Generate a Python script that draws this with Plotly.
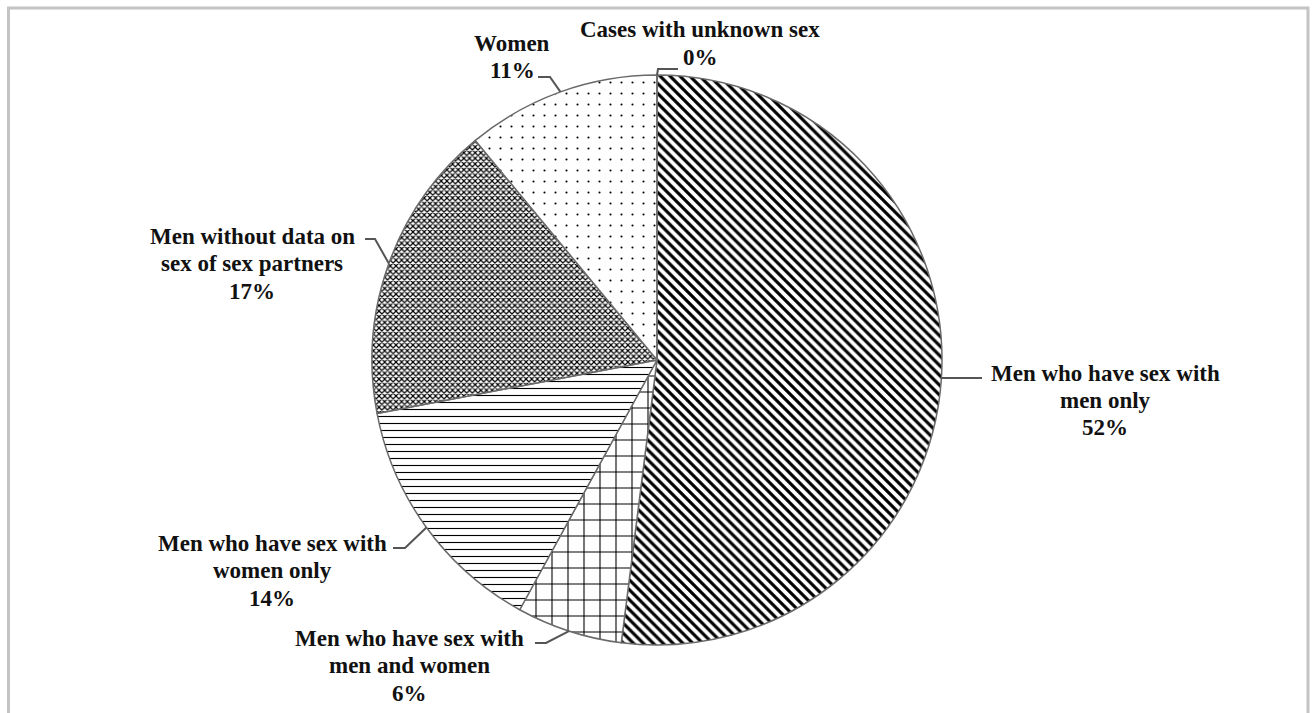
import math
import plotly.graph_objects as go

# ---------------- data ----------------
categories = [
    "Men who have sex with men only",
    "Men who have sex with men and women",
    "Men who have sex with women only",
    "Men without data on sex of sex partners",
    "Women",
    "Cases with unknown sex",
]
label_lines = [
    ["Men who have sex with", "men only"],
    ["Men who have sex with", "men and women"],
    ["Men who have sex with", "women only"],
    ["Men without data on", "sex of sex partners"],
    ["Women"],
    ["Cases with unknown sex"],
]
percent_values = [52, 6, 14, 17, 11, 0]

# ---------------- layout constants ----------------
W, H = 1316, 713
CX, CY, R = 657, 360, 285
TOP, BOTTOM = CY - R, H - (CY + R)
LINE_GAP = 27.5
FONT = "Liberation Serif, Times New Roman, serif"

patterns = [
    dict(shape="\\", size=7, solidity=0.45),
    dict(shape="+", size=16, solidity=0.13),
    dict(shape="-", size=7, solidity=0.16),
    dict(shape="x", size=4, solidity=0.5),
    dict(shape=".", size=11, solidity=0.03),
    dict(shape="", size=8, solidity=0.3),
]

# text centre (px, first line y) and leader-line elbow points (px)
label_layout = [
    dict(text=(1105, 373), elbow=[(982, None)]),
    dict(text=(410, 638), elbow=[(535, 643), (546, 643)]),
    dict(text=(272, 543), elbow=[(393, 548), (405, 548)]),
    dict(text=(252, 236), elbow=[(365, 239), (375, 239)]),
    dict(text=(512, 43), elbow=[(538, 77), (550, 77)]),
    dict(text=(700, 30), elbow=[(678, 69), (658, 69)]),
]


def px2paper(x, y):
    return x / W, (H - BOTTOM - y) / (H - TOP - BOTTOM)


fig = go.Figure()
fig.add_trace(
    go.Pie(
        labels=categories,
        values=percent_values,
        sort=False,
        direction="clockwise",
        rotation=0,
        textinfo="none",
        hoverinfo="label+percent",
        showlegend=False,
        marker=dict(
            colors=["white"] * len(categories),
            line=dict(color="#6a6a6a", width=1.5),
            pattern=dict(
                shape=[p["shape"] for p in patterns],
                size=[p["size"] for p in patterns],
                solidity=[p["solidity"] for p in patterns],
                fgcolor="black",
                bgcolor="white",
                fillmode="replace",
            ),
        ),
        domain=dict(x=[0, 2 * CX / W], y=[0, 1]),
    )
)

total = sum(percent_values)
cum = 0
annotations = []
shapes = []
for i, v in enumerate(percent_values):
    mid = (cum + v / 2) / total * 2 * math.pi
    cum += v
    ax = CX + R * math.sin(mid)
    ay = CY - R * math.cos(mid)
    lay = label_layout[i]
    pts = []
    for (ex, ey) in lay["elbow"]:
        pts.append((ex, ay if ey is None else ey))
    pts.append((ax, ay))
    path = ""
    for j, (x, y) in enumerate(pts):
        px, py = px2paper(x, y)
        path += ("M" if j == 0 else " L") + f"{px:.5f},{py:.5f}"
    shapes.append(
        dict(type="path", xref="paper", yref="paper", path=path,
             line=dict(color="#555555", width=2))
    )
    lines = label_lines[i] + [f"{v}%"]
    tx0, ty0 = lay["text"]
    for k, line in enumerate(lines):
        tx, ty = px2paper(tx0, ty0 + k * LINE_GAP)
        annotations.append(
            dict(x=tx, y=ty, xref="paper", yref="paper", text=f"<b>{line}</b>",
                 showarrow=False, xanchor="center", yanchor="middle",
                 align="center",
                 font=dict(family=FONT, size=23, color="#111111"))
        )

# outer light-grey frame
x0, y0 = px2paper(8.5, 8)
x1, y1 = px2paper(1308, 725)
shapes.append(
    dict(type="rect", xref="paper", yref="paper", x0=x0, y0=y1, x1=x1, y1=y0,
         line=dict(color="#c4c4c4", width=3), fillcolor="rgba(0,0,0,0)")
)

fig.update_layout(
    width=W,
    height=H,
    margin=dict(l=0, r=0, t=TOP, b=BOTTOM, autoexpand=False),
    paper_bgcolor="white",
    plot_bgcolor="white",
    annotations=annotations,
    shapes=shapes,
)

fig.write_html("out.html")
